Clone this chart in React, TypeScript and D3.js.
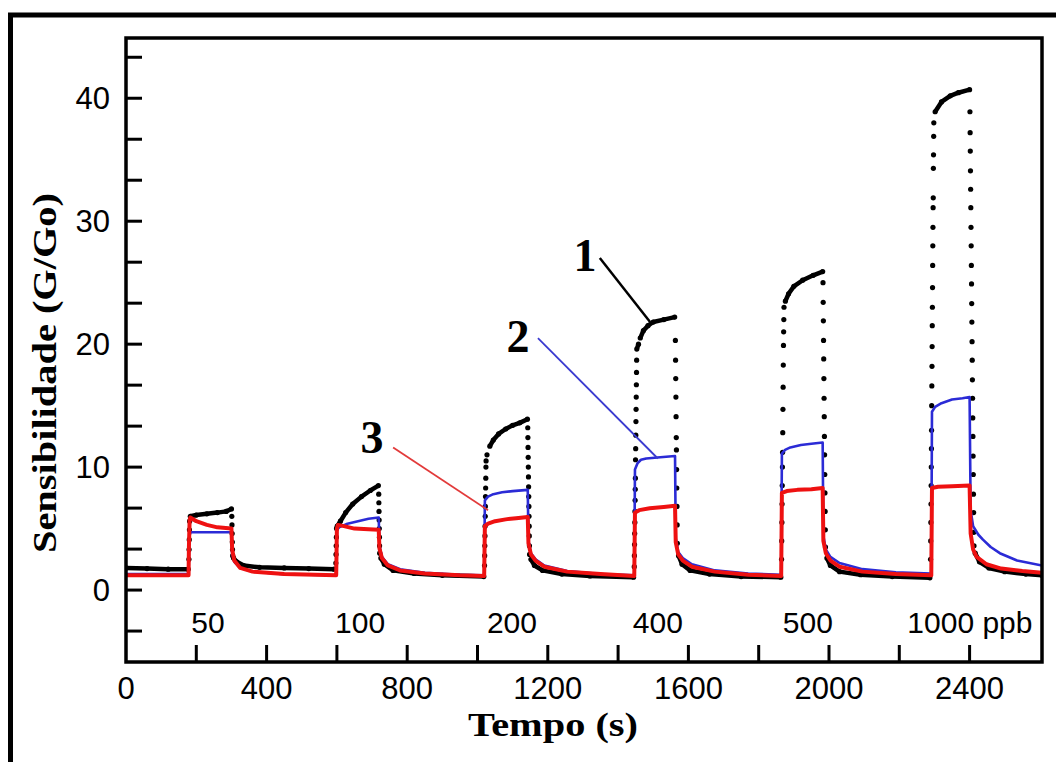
import React from 'react';
import * as d3 from 'd3';

const W = 1056;
const H = 762;

// curve 1 (black, drawn as sample dots): [tempo (s), G/Go]
const curve1: [number, number][] = [
  [0, 1.8], [60, 1.75], [120, 1.7], [177, 1.7],
  [179, 2.5], [179.5, 3.3], [180, 4.1], [180.5, 4.9], [181, 5.6],
  [183, 6.0], [200, 6.1], [230, 6.2], [260, 6.3], [285, 6.4], [300, 6.6],
  [301, 6.0], [301.5, 5.3], [302, 4.6], [302.5, 3.9], [303, 3.3], [303.5, 2.8],
  [306, 2.6], [315, 2.3], [335, 2.0], [380, 1.85], [450, 1.8], [520, 1.75], [592, 1.7],
  [597, 2.2], [597.5, 2.9], [598, 3.6], [598.5, 4.3], [599, 5.0],
  [601, 5.2], [610, 5.6], [625, 6.3], [645, 7.0], [670, 7.6], [695, 8.1], [718, 8.5],
  [719, 7.8], [719.4, 7.1], [719.8, 6.4], [720.2, 5.7], [720.6, 5.0], [721, 4.3], [721.4, 3.6], [721.8, 3.0],
  [725, 2.6], [735, 2.1], [760, 1.6], [820, 1.35], [900, 1.2], [1018, 1.1],
  [1020, 2.0], [1020.4, 2.8], [1020.8, 3.6], [1021.2, 4.4], [1021.6, 5.2], [1022, 6.0],
  [1022.4, 6.8], [1022.8, 7.6], [1023.2, 8.3], [1023.6, 9.1], [1024, 10.0], [1024.4, 10.5],
  [1027, 11.0], [1035, 11.7], [1045, 12.2], [1060, 12.7], [1080, 13.1], [1100, 13.4], [1120, 13.6], [1142, 13.9],
  [1143, 13.2], [1143.4, 12.4], [1143.8, 11.6], [1144.2, 10.8], [1144.6, 10.0], [1145, 9.2], [1145.4, 8.4],
  [1145.8, 7.6], [1146.2, 6.8], [1146.6, 6.0], [1147, 5.2], [1147.4, 4.4], [1147.8, 3.6], [1148.2, 2.9],
  [1152, 2.5], [1162, 2.0], [1185, 1.6], [1240, 1.3], [1320, 1.15], [1444, 1.05],
  [1446, 1.9], [1446.4, 2.8], [1446.8, 3.7], [1447.2, 4.6], [1447.6, 5.5], [1448, 6.4], [1448.4, 7.3],
  [1448.8, 8.2], [1449.2, 9.1], [1449.6, 10.6], [1450, 11.5], [1450.4, 12.6], [1450.8, 13.7], [1451.2, 14.7],
  [1451.6, 15.7], [1452, 16.7], [1452.4, 17.7], [1452.8, 18.7], [1453.2, 19.6],
  [1458, 20.0], [1463, 20.5], [1472, 21.1], [1485, 21.5], [1500, 21.8], [1530, 22.0], [1561, 22.2],
  [1563, 20.3], [1563.5, 18.7], [1564, 17.2], [1564.5, 15.7], [1565, 14.1], [1565.5, 12.4],
  [1566, 11.4], [1566.5, 9.8], [1567, 8.3], [1567.5, 6.8], [1568, 5.3], [1568.5, 3.8],
  [1572, 2.8], [1582, 2.1], [1605, 1.6], [1660, 1.3], [1750, 1.1], [1863, 1.05],
  [1865, 2.5], [1865.5, 4.0], [1866, 5.5], [1866.5, 7.0], [1867, 8.5], [1867.5, 10.0], [1868, 11.2],
  [1868.5, 12.8], [1869, 14.7], [1869.5, 16.5], [1870, 18.3], [1870.5, 19.9], [1871, 21.0], [1871.5, 22.0], [1872, 23.0],
  [1876, 23.5], [1885, 24.1], [1900, 24.7], [1925, 25.2], [1955, 25.6], [1982, 25.9],
  [1983, 25.0], [1983.5, 23.4], [1984, 21.9], [1984.5, 20.3], [1985, 18.8], [1985.5, 17.2], [1986, 15.6],
  [1986.5, 14.1], [1987, 12.5], [1987.5, 11.0], [1988, 9.4], [1988.5, 7.9], [1989, 6.4], [1989.5, 4.9], [1990, 3.5],
  [1994, 2.6], [2004, 2.0], [2030, 1.5], [2090, 1.25], [2180, 1.1], [2287, 1.0],
  [2289, 2.5], [2289.4, 4.0], [2289.8, 5.5], [2290.2, 7.0], [2290.6, 8.5], [2291, 10.0], [2291.4, 11.5],
  [2291.8, 13.0], [2292.2, 15.0], [2292.6, 16.6], [2293, 18.2], [2293.4, 19.8], [2293.8, 21.5], [2294.2, 23.0],
  [2294.6, 24.6], [2295, 26.4], [2295.4, 28.0], [2295.8, 29.5], [2296.2, 31.1], [2296.6, 31.9], [2297, 34.3],
  [2297.4, 35.4], [2297.8, 36.9], [2298.2, 38.0],
  [2302, 38.9], [2320, 39.7], [2345, 40.2], [2368, 40.45], [2400, 40.7],
  [2401, 38.9], [2401.5, 37.2], [2402, 35.7], [2402.5, 34.1], [2403, 32.6], [2403.5, 31.1], [2404, 29.5],
  [2404.5, 28.0], [2405, 26.4], [2405.5, 24.9], [2406, 23.3], [2406.5, 21.8], [2407, 20.2], [2407.5, 18.7],
  [2408, 17.1], [2408.5, 15.6], [2409, 14.0], [2409.5, 12.5], [2410, 10.9], [2410.5, 9.4], [2411, 7.8],
  [2411.5, 6.3], [2412, 4.7], [2412.5, 3.6],
  [2416, 3.0], [2428, 2.3], [2455, 1.8], [2500, 1.5], [2560, 1.3], [2606, 1.2],
];

// curve 2 (blue line)
const curve2: [number, number][] = [
  [0, 1.3], [178, 1.3], [180, 4.4], [184, 4.7], [300, 4.7],
  [302, 3.0], [308, 2.3], [325, 1.8], [360, 1.5], [450, 1.3], [598, 1.2],
  [600, 4.9], [606, 5.1], [630, 5.4], [660, 5.6], [690, 5.8], [719, 5.9],
  [721, 3.6], [728, 2.7], [745, 2.1], [780, 1.7], [850, 1.4], [950, 1.25], [1019, 1.2],
  [1021, 7.3], [1030, 7.6], [1045, 7.8], [1070, 7.95], [1100, 8.05], [1143, 8.15],
  [1145, 4.0], [1152, 3.0], [1165, 2.5], [1190, 2.0], [1255, 1.55], [1350, 1.3], [1446, 1.2],
  [1448, 9.8], [1455, 10.3], [1465, 10.6], [1480, 10.7], [1520, 10.8], [1562, 10.9],
  [1564, 4.2], [1571, 3.1], [1584, 2.6], [1610, 2.1], [1675, 1.6], [1770, 1.35], [1864, 1.25],
  [1866, 11.1], [1875, 11.4], [1890, 11.6], [1920, 11.8], [1950, 11.9], [1982, 12.0],
  [1984, 4.4], [1991, 3.3], [2004, 2.7], [2030, 2.2], [2095, 1.7], [2190, 1.45], [2291, 1.35],
  [2293, 14.5], [2302, 14.9], [2320, 15.2], [2350, 15.5], [2380, 15.6], [2400, 15.7],
  [2403, 6.5], [2410, 5.2], [2425, 4.5], [2438, 4.1], [2460, 3.5], [2486, 3.0], [2535, 2.4], [2606, 2.0],
];

// curve 3 (red line)
const curve3: [number, number][] = [
  [0, 1.2], [178, 1.2], [179, 3.5], [181, 5.7], [183, 5.9], [200, 5.6], [230, 5.3], [260, 5.1], [300, 5.0],
  [302, 3.3], [308, 2.4], [325, 1.8], [360, 1.5], [450, 1.3], [598, 1.2],
  [600, 5.0], [603, 5.3], [620, 5.2], [650, 5.0], [690, 4.95], [719, 4.9],
  [721, 3.4], [728, 2.6], [745, 2.0], [780, 1.6], [850, 1.35], [950, 1.2], [1019, 1.15],
  [1021, 5.2], [1030, 5.4], [1050, 5.6], [1080, 5.75], [1110, 5.85], [1143, 5.95],
  [1145, 3.8], [1152, 2.9], [1165, 2.4], [1190, 1.9], [1255, 1.5], [1350, 1.3], [1446, 1.15],
  [1448, 6.3], [1460, 6.5], [1490, 6.65], [1530, 6.75], [1562, 6.85],
  [1564, 3.9], [1571, 2.9], [1584, 2.4], [1610, 1.9], [1675, 1.5], [1770, 1.25], [1864, 1.15],
  [1866, 7.9], [1880, 8.05], [1910, 8.15], [1950, 8.2], [1982, 8.3],
  [1984, 4.0], [1991, 3.0], [2004, 2.4], [2030, 1.9], [2095, 1.5], [2190, 1.3], [2291, 1.2],
  [2293, 8.3], [2310, 8.4], [2350, 8.45], [2400, 8.5],
  [2403, 4.6], [2410, 3.3], [2420, 2.7], [2448, 2.1], [2490, 1.75], [2550, 1.55], [2606, 1.4],
];

const xLabelTicks = [0, 400, 800, 1200, 1600, 2000, 2400];
const xMarkTicks = [200, 400, 600, 800, 1000, 1200, 1400, 1600, 1800, 2000, 2200, 2400];
const yLabelTicks = [0, 10, 20, 30, 40];
const yMarkTicks = [-10 / 3, 0, 10 / 3, 20 / 3, 10, 40 / 3, 50 / 3, 20, 70 / 3, 80 / 3, 30, 100 / 3, 110 / 3, 40, 130 / 3];

const concLabels = ['50', '100', '200', '400', '500', '1000 ppb'];
const concLabelTime = [233, 666, 1098, 1513, 1940, 2401];
const concLabelValue = -2.6;

const tagText = ['1', '2', '3'];
const tagColor = ['#000000', '#3a3ad0', '#e23a3a'];
const tagAt: [number, number][] = [[1306, 27.2], [1115, 20.6], [700, 12.4]];
const leaderFrom: [number, number][] = [[1348, 27.0], [1172, 20.5], [760, 11.6]];
const leaderTo: [number, number][] = [[1491, 21.8], [1513, 10.7], [1030, 6.5]];

const sans = "'Liberation Sans', Arial, sans-serif";
const serif = "'Liberation Serif', 'Times New Roman', serif";

export default function App() {
  const x = d3.scaleLinear().domain([0, 2606]).range([126, 1042]);
  const y = d3.scaleLinear().domain([-5.85, 44.9]).range([662, 38]);
  const line = d3.line<[number, number]>().x((d) => x(d[0])).y((d) => y(d[1]));

  // join neighbouring samples of curve 1 only where it moves slowly (plateaus, baselines)
  const segs: [number, number][][] = [];
  let cur: [number, number][] = [curve1[0]];
  for (let i = 1; i < curve1.length; i++) {
    const a = curve1[i - 1];
    const b = curve1[i];
    const dx = Math.abs(x(b[0]) - x(a[0]));
    const dy = Math.abs(y(b[1]) - y(a[1]));
    if (dy <= 2.5 * dx + 1) cur.push(b);
    else {
      segs.push(cur);
      cur = [b];
    }
  }
  segs.push(cur);

  const [x0, x1] = x.range();
  const [y0, y1] = [y.range()[1], y.range()[0]];

  return (
    <svg width={W} height={H} style={{ position: 'absolute', left: 0, top: 0, background: '#fff' }}>
      <defs>
        <clipPath id="plot">
          <rect x={x0} y={y0} width={x1 - x0} height={y1 - y0} />
        </clipPath>
      </defs>
      <rect x={0} y={0} width={W} height={H} fill="#fff" />
      <rect x={10.5} y={15} width={1100} height={800} fill="none" stroke="#000" strokeWidth={5} />

      <g clipPath="url(#plot)">
        {segs.filter((s) => s.length > 1).map((s, i) => (
          <path key={'s' + i} d={line(s) || ''} fill="none" stroke="#000" strokeWidth={4.5} strokeLinejoin="round" />
        ))}
        {curve1.map((d, i) => (
          <circle key={'c' + i} cx={x(d[0])} cy={y(d[1])} r={2.6} fill="#000" />
        ))}
        <path d={line(curve2) || ''} fill="none" stroke="#2b2bd6" strokeWidth={2.6} strokeLinejoin="round" />
        <path d={line(curve3) || ''} fill="none" stroke="#ee1111" strokeWidth={4} strokeLinejoin="round" />
      </g>

      {/* frame and ticks */}
      <rect x={x0} y={y0} width={x1 - x0} height={y1 - y0} fill="none" stroke="#000" strokeWidth={3.5} />
      {yMarkTicks.map((v, i) => (
        <line key={'yt' + i} x1={x0} x2={x0 + 16} y1={y(v)} y2={y(v)} stroke="#000" strokeWidth={3} />
      ))}
      {xMarkTicks.map((t, i) => (
        <line key={'xt' + i} x1={x(t)} x2={x(t)} y1={y1} y2={y1 - 17} stroke="#000" strokeWidth={3} />
      ))}
      {yLabelTicks.map((v) => (
        <text key={'yl' + v} x={x0 - 16} y={y(v)} dy="0.36em" textAnchor="end" fontFamily={sans} fontSize={31} fill="#000">
          {v}
        </text>
      ))}
      {xLabelTicks.map((t) => (
        <text key={'xl' + t} x={x(t)} y={y1 + 37} textAnchor="middle" fontFamily={sans} fontSize={31} fill="#000">
          {t}
        </text>
      ))}
      {concLabels.map((s, i) => (
        <text key={'cl' + i} x={x(concLabelTime[i])} y={y(concLabelValue)} dy="0.36em" textAnchor="middle" fontFamily={sans} fontSize={30} fill="#000">
          {s}
        </text>
      ))}

      {/* curve tags */}
      {tagText.map((s, i) => (
        <g key={'tag' + i}>
          <line x1={x(leaderFrom[i][0])} y1={y(leaderFrom[i][1])} x2={x(leaderTo[i][0])} y2={y(leaderTo[i][1])}
            stroke={tagColor[i]} strokeWidth={i === 0 ? 2.5 : 1.8} />
          <text x={x(tagAt[i][0])} y={y(tagAt[i][1])} dy="0.34em" textAnchor="middle" fontFamily={serif}
            fontWeight="bold" fontSize={46} fill="#000">
            {s}
          </text>
        </g>
      ))}

      {/* axis titles */}
      <text x={553} y={736} textAnchor="middle" fontFamily={serif} fontWeight="bold" fontSize={34}
        textLength={170} lengthAdjust="spacingAndGlyphs" fill="#000">
        Tempo (s)
      </text>
      <text transform="translate(56,373) rotate(-90)" textAnchor="middle" fontFamily={serif} fontWeight="bold"
        fontSize={34} textLength={360} lengthAdjust="spacingAndGlyphs" fill="#000">
        Sensibilidade (G/Go)
      </text>
    </svg>
  );
}
